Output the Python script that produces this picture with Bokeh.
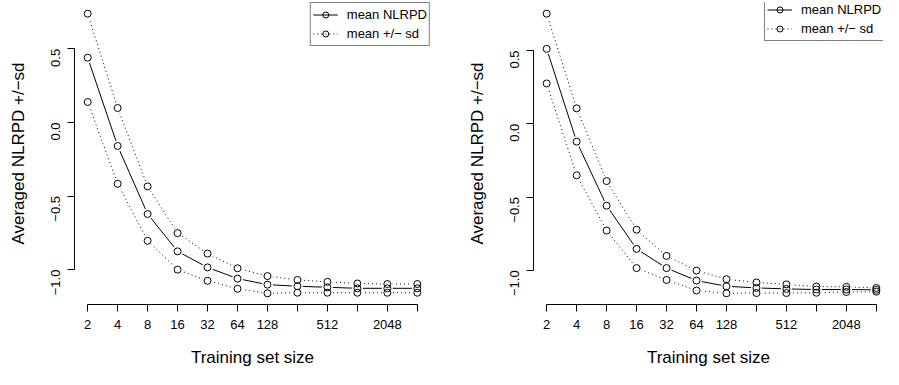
import math
from bokeh.plotting import figure
from bokeh.layouts import row
from bokeh.models import Range1d, FixedTicker, Legend, LegendItem
from bokeh.embed import file_html
from bokeh.resources import INLINE

# ---------------- data ----------------
sizes = [2, 4, 8, 16, 32, 64, 128, 256, 512, 1024, 2048, 4096]
x_tick_labels = ["2", "4", "8", "16", "32", "64", "128", "", "512", "", "2048", ""]
y_ticks = [-1.0, -0.5, 0.0, 0.5]
y_tick_labels = ["\u22121.0", "\u22120.5", "0.0", "0.5"]

left_mean = [0.440, -0.160, -0.622, -0.876, -0.985, -1.061, -1.102, -1.113, -1.120, -1.127, -1.127, -1.127]
left_upper = [0.739, 0.098, -0.435, -0.752, -0.891, -0.991, -1.044, -1.070, -1.083, -1.094, -1.098, -1.098]
left_lower = [0.139, -0.417, -0.804, -1.000, -1.076, -1.130, -1.161, -1.157, -1.157, -1.157, -1.157, -1.157]

right_mean = [0.511, -0.122, -0.559, -0.854, -0.985, -1.070, -1.109, -1.120, -1.127, -1.131, -1.131, -1.133]
right_upper = [0.751, 0.105, -0.391, -0.723, -0.902, -1.002, -1.061, -1.083, -1.096, -1.111, -1.113, -1.120]
right_lower = [0.275, -0.352, -0.729, -0.985, -1.066, -1.138, -1.157, -1.155, -1.155, -1.153, -1.148, -1.146]

x_title = "Training set size"
y_title = "Averaged NLRPD +/\u2212sd"
legend_labels = ["mean NLRPD", "mean +/\u2212 sd"]

FONT = "Liberation Sans"
HEIGHT = 369
TOP = 2
BOTTOM = 62
FRAME_H = HEIGHT - TOP - BOTTOM


def r_range(lo, hi):
    pad = 0.04 * (hi - lo)
    return lo - pad, hi + pad


def make_panel(mean, upper, lower, width, min_left, min_right, clip_right, legend_x=None):
    lx_lo, lx_hi = r_range(math.log2(sizes[0]), math.log2(sizes[-1]))
    frame_w = width - min_left - min_right
    if clip_right:
        # same pixel-per-unit as the full panel would have, but the frame is cut off
        full_w = 356.0
        ppu = full_w / (lx_hi - lx_lo)
        lx_hi = lx_lo + frame_w / ppu
    y_lo, y_hi = r_range(min(lower + mean + upper), max(lower + mean + upper))

    p = figure(width=width, height=HEIGHT, x_axis_type="log",
               x_range=Range1d(2 ** lx_lo, 2 ** lx_hi), y_range=Range1d(y_lo, y_hi),
               output_backend="svg", toolbar_location=None,
               min_border_left=min_left, min_border_right=min_right,
               min_border_top=TOP, min_border_bottom=BOTTOM)
    p.outline_line_color = None
    p.grid.visible = False
    p.background_fill_color = "white"
    p.border_fill_color = "white"

    # lines
    l_up = p.line(sizes, upper, line_color="black", line_width=1, line_dash="1 3")
    l_lo = p.line(sizes, lower, line_color="black", line_width=1, line_dash="1 3")
    l_mn = p.line(sizes, mean, line_color="black", line_width=1)
    # gaps around points (type = "b")
    for vals in (upper, lower, mean):
        p.scatter(sizes, vals, size=11, marker="circle", fill_color="white", line_color=None)
    c_up = p.scatter(sizes, upper, size=7, marker="circle", fill_alpha=0, line_color="black", line_width=1)
    c_lo = p.scatter(sizes, lower, size=7, marker="circle", fill_alpha=0, line_color="black", line_width=1)
    c_mn = p.scatter(sizes, mean, size=7, marker="circle", fill_alpha=0, line_color="black", line_width=1)

    # x axis
    xa = p.xaxis[0]
    xa.ticker = FixedTicker(ticks=sizes, minor_ticks=[])
    xa.major_label_overrides = {s: lab for s, lab in zip(sizes, x_tick_labels)}
    xa.bounds = (sizes[0], sizes[-1])
    xa.axis_label = x_title
    xa.axis_label_standoff = 16
    xa.major_label_standoff = 8
    # y axis
    ya = p.yaxis[0]
    ya.ticker = FixedTicker(ticks=y_ticks, minor_ticks=[])
    ya.major_label_overrides = {t: lab for t, lab in zip(y_ticks, y_tick_labels)}
    ya.bounds = (y_ticks[0], y_ticks[-1])
    ya.major_label_orientation = math.pi / 2
    ya.axis_label = y_title
    ya.axis_label_standoff = 16
    ya.major_label_standoff = 12
    for ax in (xa, ya):
        ax.axis_line_color = "black"
        ax.axis_line_width = 1
        ax.major_tick_line_color = "black"
        ax.major_tick_out = 7
        ax.major_tick_in = 0
        ax.minor_tick_line_color = None
        ax.major_label_text_font = FONT
        ax.major_label_text_font_size = "13px"
        ax.major_label_text_color = "black"
        ax.axis_label_text_font = FONT
        ax.axis_label_text_font_size = "17px"
        ax.axis_label_text_font_style = "normal"
        ax.axis_label_text_color = "black"

    legend_h = 42
    loc = "top_right" if legend_x is None else (legend_x, FRAME_H - legend_h)
    leg = Legend(items=[LegendItem(label=legend_labels[0], renderers=[l_mn, c_mn]),
                        LegendItem(label=legend_labels[1], renderers=[l_up, c_up])],
                 location=loc, margin=0, padding=2, spacing=0,
                 glyph_width=25, glyph_height=15, label_height=19, label_standoff=9,
                 label_text_font=FONT, label_text_font_size="13px", label_text_color="black",
                 border_line_color="black", border_line_width=1,
                 background_fill_color="white", background_fill_alpha=1)
    p.add_layout(leg)
    return p


p1 = make_panel(left_mean, left_upper, left_lower, width=441, min_left=74, min_right=11, clip_right=False)
p2 = make_panel(right_mean, right_upper, right_lower, width=442, min_left=92, min_right=0, clip_right=True,
                legend_x=231)

layout = row(p1, p2)
open("out.html", "w").write(file_html(layout, INLINE))
